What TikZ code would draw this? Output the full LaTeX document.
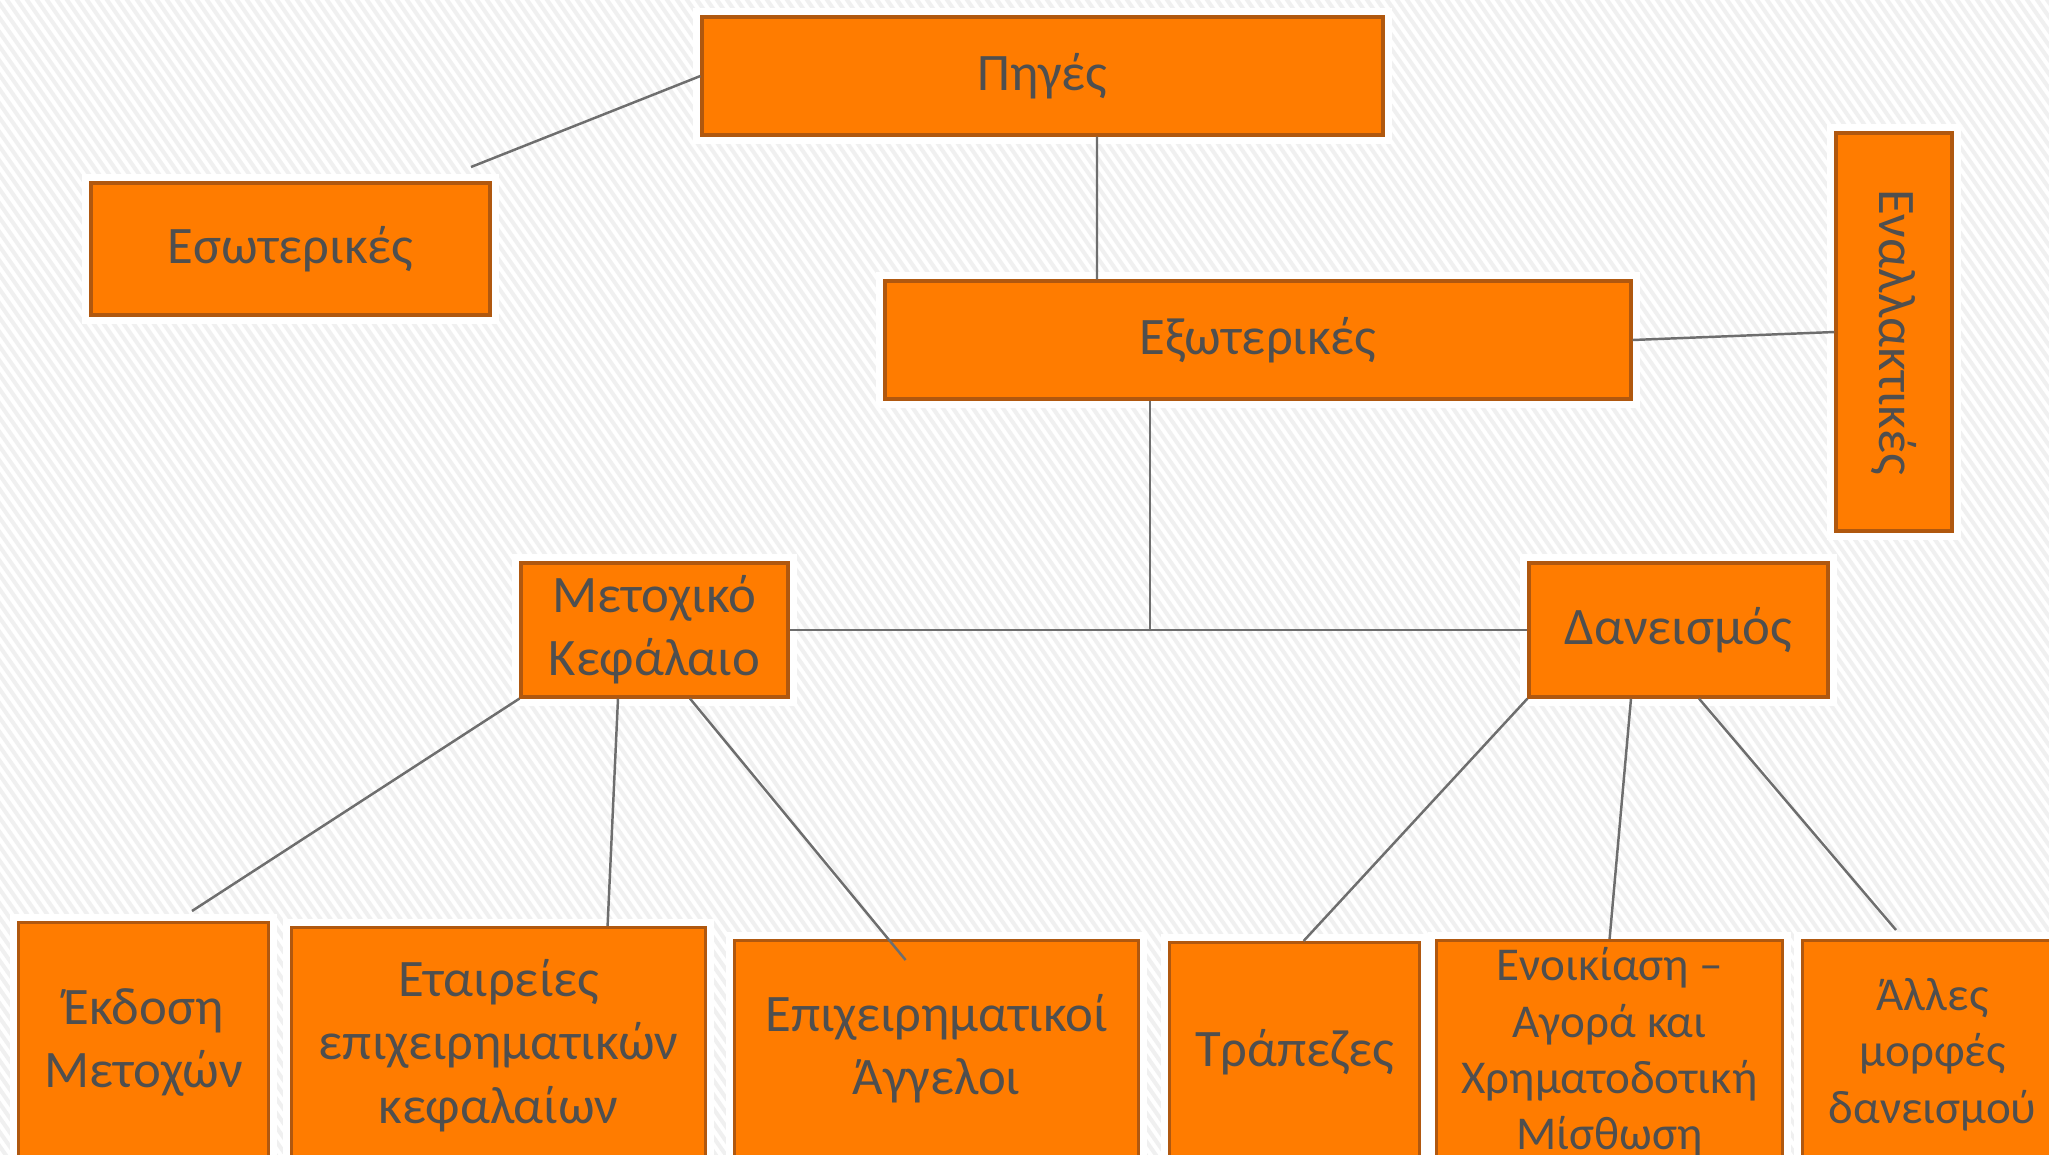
\documentclass[tikz,border=0pt]{standalone}
\usepackage{fontspec}
\setmainfont{Carlito}
\usepackage{xcolor}
\usepackage{tikz}

\definecolor{boxorange}{HTML}{FF7C00}
\definecolor{boxedge}{HTML}{B0580F}
\definecolor{boxtext}{HTML}{4F4F4F}
\definecolor{linkgray}{HTML}{6E6E6E}
\definecolor{stripe}{HTML}{F0F0F0}

\begin{document}
\begin{tikzpicture}[
    every node/.style={font=\fontsize{15pt}{18pt}\selectfont, text=boxtext},
    box/.style={draw=boxedge, fill=boxorange, rectangle, align=center, line width=0.9pt, inner sep=2pt, preaction={draw=white, line width=5pt}},
    small/.style={font=\fontsize{13.4pt}{16pt}\selectfont},
    link/.style={draw=linkgray, line width=0.7pt}
]

    % Fundo com listras
    \useasboundingbox (0,0) rectangle (20.49,-11.54);
    \clip (0,0) rectangle (20.49,-11.54);
    \fill[white] (0,0) rectangle (20.49,-11.54);
    \foreach \i in {0,...,290}
        \draw[stripe, line width=0.04cm] ({\i*0.1-8.2},0.1) -- ++(8.2,-11.71);

    % Nodes of the upper levels
    \node (pig) [box, minimum width=6.81cm, minimum height=1.18cm] at (10.425,-0.76) {Πηγές};
    \node (eso) [box, minimum width=3.99cm, minimum height=1.32cm] at (2.905,-2.49) {Εσωτερικές};
    \node (exo) [box, minimum width=7.46cm, minimum height=1.18cm] at (12.58,-3.40) {Εξωτερικές};
    \node (enal) [box, minimum width=1.16cm, minimum height=3.98cm] at (18.94,-3.32) {\rotatebox{-90}{Εναλλακτικές}};
    \node (metox) [box, minimum width=2.67cm, minimum height=1.34cm] at (6.545,-6.30) {Μετοχικό\\Κεφάλαιο};
    \node (dan) [box, minimum width=2.99cm, minimum height=1.34cm] at (16.785,-6.30) {Δανεισμός};

    % Nodes of the bottom row
    \node (ekd) [box, anchor=north west, minimum width=2.50cm, minimum height=2.40cm] at (0.17,-9.21) {Έκδοση\\Μετοχών};
    \node (etair) [box, anchor=north west, minimum width=4.14cm, minimum height=2.36cm] at (2.90,-9.26) {Εταιρείες\\επιχειρηματικών\\κεφαλαίων};
    \node (aggel) [box, anchor=north west, minimum width=4.04cm, minimum height=2.16cm] at (7.33,-9.39) {Επιχειρηματικοί\\Άγγελοι};
    \node (trap) [box, anchor=north west, minimum width=2.50cm, minimum height=2.20cm] at (11.68,-9.41) {Τράπεζες};
    \node (enoik) [box, small, anchor=north west, minimum width=3.46cm, minimum height=2.20cm] at (14.35,-9.39) {Ενοικίαση –\\Αγορά και\\Χρηματοδοτική\\Μίσθωση};
    \node (allo) [box, small, anchor=north west, minimum width=2.60cm, minimum height=2.28cm] at (18.01,-9.39) {Άλλες\\μορφές\\δανεισμού};

    % Free ends of some connectors
    \coordinate (esoend) at (4.71,-1.67);
    \coordinate (ekdend) at (1.92,-9.11);
    \coordinate (alloend) at (18.96,-9.30);
    \coordinate (hub) at (11.50,-6.30);

    % Connectors
    \draw [link] (pig.west) -- (esoend);
    \draw [link] ([xshift=0.545cm]pig.south) -- ([xshift=-1.61cm]exo.north);
    \draw [link] (exo.east) -- (enal.west);
    \draw [link] ([xshift=-1.08cm]exo.south) -- (hub);
    \draw [link] (metox) -- (dan);

    \draw [link] (metox.south west) -- (ekdend);
    \draw [link] ([xshift=-0.365cm]metox.south) -- ([xshift=1.09cm]etair.north);
    \draw [link] ([xshift=0.355cm]metox.south) -- ([xshift=-0.31cm, yshift=-0.21cm]aggel.north);

    \draw [link] (dan.south west) -- ([xshift=0.09cm]trap.north);
    \draw [link] ([xshift=-0.475cm]dan.south) -- (enoik.north);
    \draw [link] ([xshift=0.205cm]dan.south) -- (alloend);

\end{tikzpicture}
\end{document}
